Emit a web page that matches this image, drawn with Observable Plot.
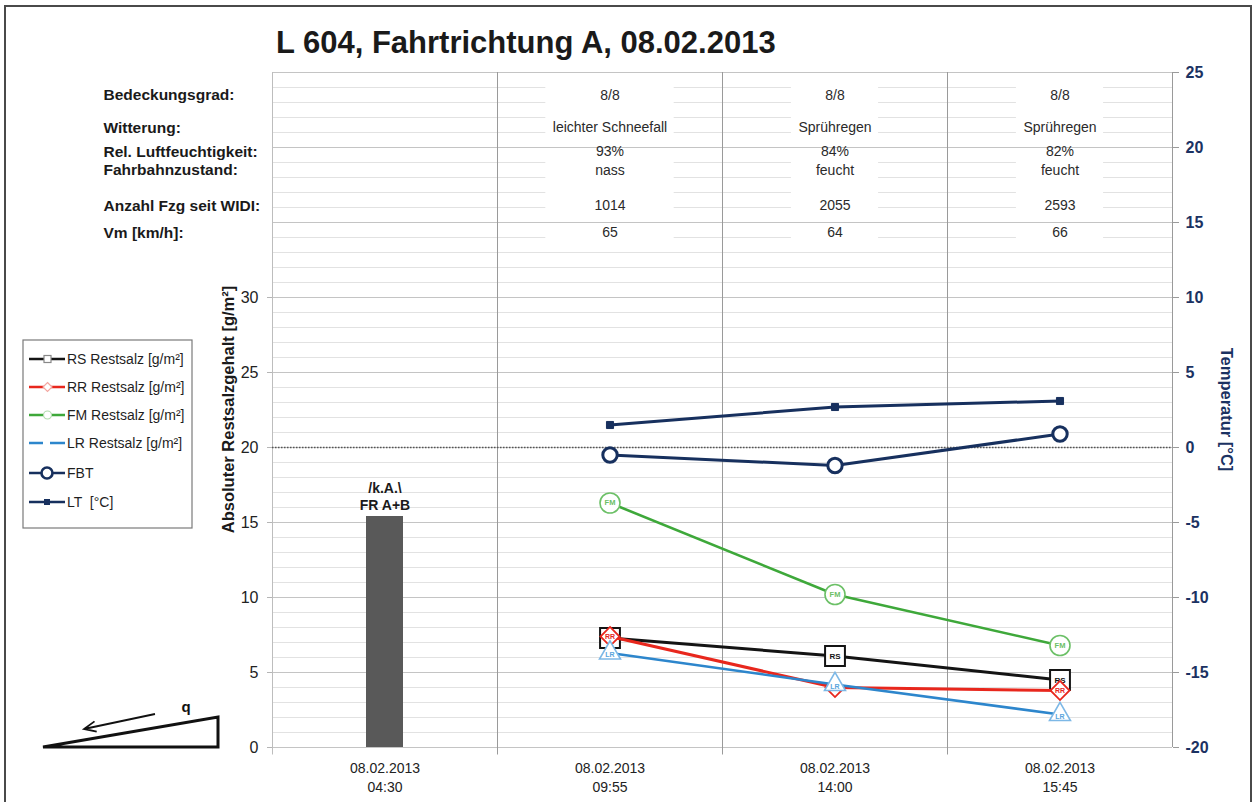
<!DOCTYPE html>
<html>
<head>
<meta charset="utf-8">
<script src="https://cdn.jsdelivr.net/npm/d3@7"></script>
<script src="https://cdn.jsdelivr.net/npm/@observablehq/plot@0.6"></script>
<style>
  html, body { margin: 0; padding: 0; background: #fff; }
  svg { display: block; }
</style>
</head>
<body>
<div id="chart"></div>
<script>
// ---------------- data ----------------
const dateLabel = "08.02.2013";
const times = ["04:30", "09:55", "14:00", "15:45"];
const barTimes = ["04:30"];
const barValues = [15.4];
const barNote = "/k.A.\\\nFR A+B";
const seriesTimes = ["09:55", "14:00", "15:45"];
const rsValues = [7.3, 6.1, 4.5];
const rrValues = [7.4, 4.0, 3.8];
const fmValues = [16.3, 10.2, 6.8];
const lrValues = [6.3, 4.2, 2.2];
const fbtValues = [-0.5, -1.2, 0.9];   // °C
const ltValues = [1.5, 2.7, 3.1];      // °C
const rowLabels = ["Bedeckungsgrad:", "Witterung:", "Rel. Luftfeuchtigkeit:", "Fahrbahnzustand:", "Anzahl Fzg seit WIDI:", "Vm [km/h]:"];
const rowValues = [
  ["8/8", "8/8", "8/8"],
  ["leichter Schneefall", "Sprühregen", "Sprühregen"],
  ["93%", "84%", "82%"],
  ["nass", "feucht", "feucht"],
  ["1014", "2055", "2593"],
  ["65", "64", "66"]
];
const leftTicks = [0, 5, 10, 15, 20, 25, 30];
const rightTicks = [-20, -15, -10, -5, 0, 5, 10, 15, 20, 25];
const legendLabels = ["RS Restsalz [g/m²]", "RR Restsalz [g/m²]", "FM Restsalz [g/m²]", "LR Restsalz [g/m²]", "FBT", "LT  [°C]"];
const rsLabelVisible = [false, true, true]; // RS marker label hidden under the RR marker at 09:55
const title = "L 604, Fahrtrichtung A, 08.02.2013";
const yTitleLeft = "Absoluter Restsalzgehalt [g/m²]";
const yTitleRight = "Temperatur [°C]";

// ---------------- layout ----------------
const W = 1255, H = 802;
const mL = 272, mR = 83, mT = 72, mB = 55;
const leftDomain = [0, 45];
const rightDomain = [-20, 25];
const toLeft = t => (t - rightDomain[0]) / (rightDomain[1] - rightDomain[0]) * (leftDomain[1] - leftDomain[0]) + leftDomain[0];
const bw = (W - mL - mR) / times.length;
const rowY = [43.47, 41.33, 39.73, 38.47, 36.13, 34.33]; // table row positions (left-axis units)

const FONT = "'Liberation Sans', Arial, Helvetica, sans-serif";
const NAVY = "#1b3262";
const C = { rs: "#141414", rr: "#e8271d", fm: "#3ea83a", lr: "#2d86cc", temp: "#17305e" };

const mk = (vals, name) => seriesTimes.map((t, i) => ({ time: t, value: vals[i], name }));
const rs = mk(rsValues, "RS"), rr = mk(rrValues, "RR"), fm = mk(fmValues, "FM"), lr = mk(lrValues, "LR");
const rsLabels = rs.filter((d, i) => rsLabelVisible[i]);
const fbt = seriesTimes.map((t, i) => ({ time: t, value: toLeft(fbtValues[i]) }));
const lt = seriesTimes.map((t, i) => ({ time: t, value: toLeft(ltValues[i]) }));
const bars = barTimes.map((t, i) => ({ time: t, value: barValues[i] }));
const table = rowValues.flatMap((r, ri) => r.map((v, ci) => ({ time: seriesTimes[ci], row: rowY[ri], text: v })));

// white background boxes behind table column text
const canvas = document.createElement("canvas").getContext("2d");
canvas.font = `14px ${FONT}`;
const colWidths = seriesTimes.map((t, ci) => d3.max(rowValues, r => canvas.measureText(r[ci]).width) + 14);
const boxes = seriesTimes.map((t, ci) => ({ time: t, w: colWidths[ci] }));

const minor = d3.range(leftDomain[0], leftDomain[1] + 1, 1);
const major = d3.range(leftDomain[0], leftDomain[1] + 1, 5);

const marks = [
  Plot.ruleY(minor, { stroke: "#e2e2e2", strokeWidth: 1 }),
  ...boxes.map(b => Plot.barY([b], { x: "time", y1: 33.4, y2: 44.6, fill: "white", insetLeft: (bw - b.w) / 2, insetRight: (bw - b.w) / 2 })),
  Plot.ruleY(major, { stroke: "#c4c4c4", strokeWidth: 1 }),
  Plot.ruleX(times.slice(1), { dx: -bw / 2, y1: leftDomain[1], y2: -0.5, stroke: "#9a9a9a", strokeWidth: 1 }),
  Plot.ruleX([times[0]], { dx: -bw / 2, y1: leftDomain[1], y2: -0.5, stroke: "#bdbdbd", strokeWidth: 1 }),
  Plot.ruleX([times[times.length - 1]], { dx: bw / 2, y1: leftDomain[1], y2: leftDomain[0], stroke: "#9a9a9a", strokeWidth: 1 }),
  Plot.ruleY([toLeft(0)], { stroke: "#555", strokeWidth: 1.3, strokeDasharray: "1.5,1.5" }),
  // table text
  Plot.text(rowLabels, { y: rowY, frameAnchor: "left", dx: -169, textAnchor: "start", fontWeight: "bold", fontSize: 15.5, fill: "#1a1a1a" }),
  Plot.text(table, { x: "time", y: "row", text: "text", fontSize: 14, fill: "#2a2a2a" }),
  // bar
  Plot.barY(bars, { x: "time", y: "value", fill: "#595959", insetLeft: (bw - 37) / 2, insetRight: (bw - 37) / 2 }),
  Plot.text(bars, { x: "time", y: "value", text: () => barNote, lineAnchor: "bottom", dy: -7, fontWeight: "bold", fontSize: 14, lineHeight: 1.2, fill: "#1a1a1a" }),
  // RS
  Plot.line(rs, { x: "time", y: "value", stroke: C.rs, strokeWidth: 3 }),
  Plot.dot(rs, { x: "time", y: "value", symbol: d3.symbolSquare, r: 11.2, fill: "white", stroke: C.rs, strokeWidth: 2 }),
  Plot.text(rsLabels, { x: "time", y: "value", text: "name", fontSize: 8, fontWeight: "bold", fill: C.rs }),
  // RR
  Plot.line(rr, { x: "time", y: "value", stroke: C.rr, strokeWidth: 3 }),
  Plot.dot(rr, { x: "time", y: "value", symbol: d3.symbolDiamond2, r: 8.6, fill: "white", stroke: C.rr, strokeWidth: 1.8 }),
  Plot.text(rr, { x: "time", y: "value", text: "name", fontSize: 7, fontWeight: "bold", fill: C.rr }),
  // FM
  Plot.line(fm, { x: "time", y: "value", stroke: C.fm, strokeWidth: 2.6 }),
  Plot.dot(fm, { x: "time", y: "value", r: 10, fill: "white", stroke: "#6cc067", strokeWidth: 1.6 }),
  Plot.text(fm, { x: "time", y: "value", text: "name", fontSize: 7.5, fontWeight: "bold", fill: "#6cc067" }),
  // LR
  Plot.line(lr, { x: "time", y: "value", stroke: C.lr, strokeWidth: 2.6 }),
  Plot.dot(lr, { x: "time", y: "value", symbol: d3.symbolTriangle2, r: 10, fill: "white", stroke: "#7db8e6", strokeWidth: 1.6 }),
  Plot.text(lr, { x: "time", y: "value", text: "name", dy: 2, fontSize: 7, fontWeight: "bold", fill: "#5aa5dd" }),
  // FBT
  Plot.line(fbt, { x: "time", y: "value", stroke: C.temp, strokeWidth: 3 }),
  Plot.dot(fbt, { x: "time", y: "value", r: 7.2, fill: "white", stroke: C.temp, strokeWidth: 3 }),
  // LT
  Plot.line(lt, { x: "time", y: "value", stroke: C.temp, strokeWidth: 3 }),
  Plot.dot(lt, { x: "time", y: "value", symbol: d3.symbolSquare, r: 4, fill: C.temp, stroke: C.temp, strokeWidth: 1 }),
  // axes
  Plot.axisY({ anchor: "left", ticks: leftTicks, tickSize: 5, tickPadding: 9, fontSize: 16, stroke: "#b5b5b5", fill: "#222", label: null }),
  Plot.axisY({ anchor: "right", ticks: rightTicks.map(toLeft), tickFormat: d => String(Math.round(d - toLeft(0))), tickSize: 6, tickPadding: 7, fontSize: 16, fontWeight: "bold", stroke: "#9a9a9a", fill: NAVY, label: null }),
  Plot.axisX({ tickSize: 0, tickPadding: 13, tickFormat: t => dateLabel + "\n" + t, fontSize: 14, lineHeight: 1.3, fill: "#222", label: null })
];

const svg = Plot.plot({
  width: W, height: H,
  marginLeft: mL, marginRight: mR, marginTop: mT, marginBottom: mB,
  x: { type: "band", domain: times, padding: 0, axis: null },
  y: { domain: leftDomain, axis: null },
  style: { fontFamily: FONT, background: "white", color: "#222", overflow: "visible" },
  marks
});
document.getElementById("chart").appendChild(svg);

// ---------------- decorations ----------------
const s = d3.select(svg);
const deco = s.append("g").attr("font-family", FONT).attr("text-anchor", "start");

// outer frame
deco.append("path").attr("d", `M5,${H + 5} V6 H1251 V${H + 5}`).attr("fill", "none").attr("stroke", "#4a4a4a").attr("stroke-width", 2);

// title
deco.append("text").attr("x", 276).attr("y", 53).attr("text-anchor", "start").attr("font-size", 31).attr("font-weight", "bold").attr("fill", "#1a1a1a").text(title);

// axis titles
deco.append("text").attr("transform", `translate(234,${(mT + H - mB) / 2}) rotate(-90)`).attr("text-anchor", "middle")
  .attr("font-size", 16.5).attr("font-weight", "bold").attr("fill", "#1a1a1a").text(yTitleLeft);
deco.append("text").attr("transform", `translate(1221,${(mT + H - mB) / 2}) rotate(90)`).attr("text-anchor", "middle")
  .attr("font-size", 16.5).attr("font-weight", "bold").attr("fill", NAVY).text(yTitleRight);

// legend
const lg = deco.append("g");
lg.append("rect").attr("x", 23).attr("y", 340).attr("width", 169).attr("height", 188).attr("fill", "white").attr("stroke", "#7a7a7a").attr("stroke-width", 1.2);
const ly = [359, 387, 415, 443, 473, 502];
const lcol = [C.rs, C.rr, C.fm, C.lr, C.temp, C.temp];
legendLabels.forEach((lab, i) => {
  const y = ly[i];
  const ln = lg.append("line").attr("x1", 29).attr("x2", 65).attr("y1", y).attr("y2", y).attr("stroke", lcol[i]).attr("stroke-width", 2.5);
  if (i === 3) ln.attr("stroke-dasharray", "14,7,15");
  if (i === 0) lg.append("rect").attr("x", 44).attr("y", y - 3.5).attr("width", 7).attr("height", 7).attr("fill", "white").attr("stroke", "#888").attr("stroke-width", 1.2);
  if (i === 1) lg.append("path").attr("d", `M47.5,${y - 4.5} L52,${y} L47.5,${y + 4.5} L43,${y} Z`).attr("fill", "white").attr("stroke", "#f3a6a0").attr("stroke-width", 1.2);
  if (i === 2) lg.append("circle").attr("cx", 47.5).attr("cy", y).attr("r", 4).attr("fill", "white").attr("stroke", "#b2dcae").attr("stroke-width", 1.2);
  if (i === 4) lg.append("circle").attr("cx", 47).attr("cy", y).attr("r", 5.5).attr("fill", "white").attr("stroke", C.temp).attr("stroke-width", 2.6);
  if (i === 5) lg.append("rect").attr("x", 44).attr("y", y - 3).attr("width", 6).attr("height", 6).attr("fill", C.temp);
  lg.append("text").attr("x", 67).attr("y", y).attr("dy", "0.36em").attr("text-anchor", "start").attr("font-size", 14).attr("fill", "#1f1f1f").text(lab);
});

// cross-slope sketch
const rp = deco.append("g").attr("stroke", "#111").attr("fill", "none");
rp.append("path").attr("d", "M43,747 L218,747 L218,717 Z").attr("stroke-width", 3).attr("stroke-linejoin", "miter");
const tip = [84, 729], tail = [155, 714];
const ang = Math.atan2(tail[1] - tip[1], tail[0] - tip[0]);
const hl = 13, ha = 0.42;
rp.append("path").attr("stroke-width", 1.8)
  .attr("d", `M${tail[0]},${tail[1]} L${tip[0]},${tip[1]} M${tip[0] + hl * Math.cos(ang - ha)},${tip[1] + hl * Math.sin(ang - ha)} L${tip[0]},${tip[1]} L${tip[0] + hl * Math.cos(ang + ha)},${tip[1] + hl * Math.sin(ang + ha)}`);
deco.append("text").attr("x", 186).attr("y", 712).attr("text-anchor", "middle").attr("font-size", 15).attr("font-weight", "bold").attr("fill", "#111").text("q");
</script>
</body>
</html>
